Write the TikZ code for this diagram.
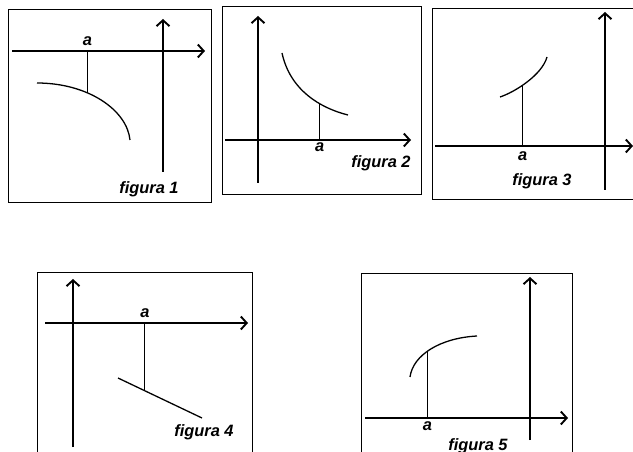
\documentclass[tikz,border=0pt]{standalone}
\usepackage{fontspec}
\setmainfont{Liberation Sans}
\usetikzlibrary{arrows.meta}
\begin{document}
\begin{tikzpicture}[x=0.03cm, y=-0.03cm, font=\bfseries\itshape\fontsize{14}{16}\selectfont,
		frame/.style={line width=0.8pt},
		axis/.style={line width=2.2pt, -{Straight Barb[length=5pt, width=11pt, line width=1.6pt]}},
		graph/.style={line width=1.1pt},
		drop/.style={line width=0.7pt}]
	\useasboundingbox (0,0) rectangle (633,452);
	% frames
	\draw[frame] (8,9) rectangle (211,202) (222,6) rectangle (421,194) (432,8) rectangle (640,199);
	\draw[frame] (37,472) -- (37,272) -- (252,272) -- (252,472) (361,472) -- (361,273) -- (572,273) -- (572,472);
	% axes crossing points
	\coordinate (O1) at (163,51); \coordinate (O2) at (258,140); \coordinate (O3) at (605,146);
	\coordinate (O4) at (73,323); \coordinate (O5) at (530,418);
	\draw[axis] (12,51) -- (205,51); \draw[axis] (163,172) -- (163,19);
	\draw[axis] (225,140) -- (411,140); \draw[axis] (258,183) -- (258,16);
	\draw[axis] (435,146) -- (633,146); \draw[axis] (605,190) -- (605,12);
	\draw[axis] (45,323) -- (248,323); \draw[axis] (73,447) -- (73,279);
	\draw[axis] (365,418) -- (568,418); \draw[axis] (530,440) -- (530,277);
	% graphs
	\draw[graph] (37,83) .. controls (88,83) and (127,110) .. (130,140) coordinate[pos=0.37] (P1);
	\draw[graph] (282,53) .. controls (290,90) and (320,108) .. (348,115) coordinate[pos=0.66] (P2);
	\draw[graph] (500,97) .. controls (515,92) and (542,75) .. (547,57) coordinate[pos=0.42] (P3);
	\draw[graph] (118,378) -- (202,418) coordinate[pos=0.32] (P4);
	\draw[graph] (410,377) .. controls (413,355) and (440,338) .. (477,336) coordinate[pos=0.45] (P5);
	\foreach \i in {1,...,5} \draw[drop] (P\i) -- (P\i |- O\i);
	% labels
	\node[above=1pt] at (P1 |- O1) {a};
	\node[below=-1pt] at (P2 |- O2) {a};
	\node[below=1pt] at (P3 |- O3) {a};
	\node[above=1pt] at (P4 |- O4) {a};
	\node[below=-0.5pt] at (P5 |- O5) {a};
	\node at (149,189) {figura 1};
	\node at (381,163) {figura 2};
	\node at (542,181) {figura 3};
	\node at (204,432) {figura 4};
	\node at (478,446) {figura 5};
\end{tikzpicture}
\end{document}
